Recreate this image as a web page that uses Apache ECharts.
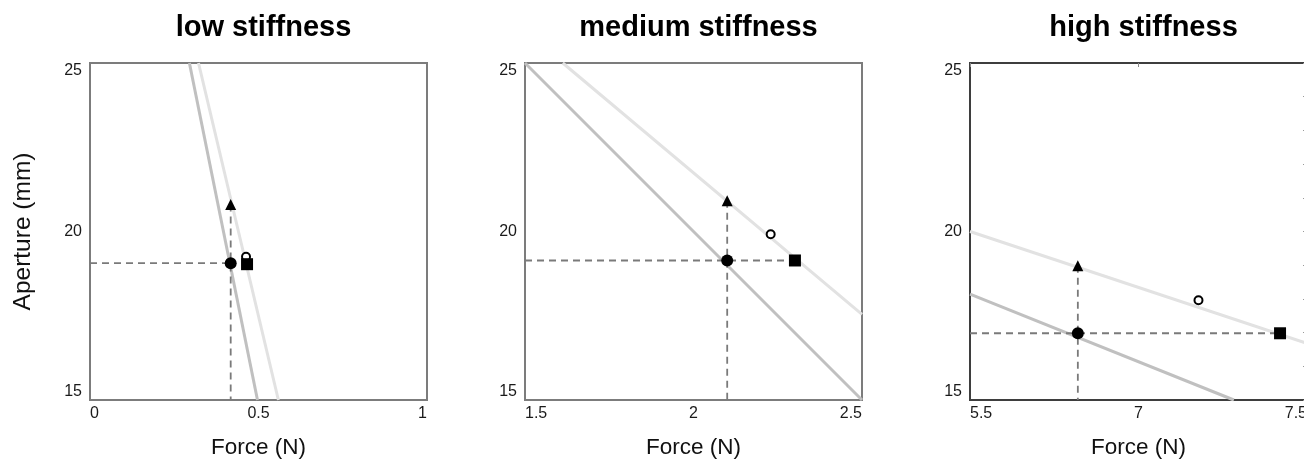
<!DOCTYPE html>
<html>
<head>
<meta charset="utf-8">
<script src="https://cdn.jsdelivr.net/npm/echarts@6/dist/echarts.min.js"></script>
<style>
html,body{margin:0;padding:0;background:#fff;}
#chart{width:1304px;height:459px;}
</style>
</head>
<body>
<div id="chart"></div>
<script>
// ---- data ----
const titles = ['low stiffness', 'medium stiffness', 'high stiffness'];
const xMin = [0, 1.5, 6.5];
const xMax = [1, 2.5, 7.5];
const xTickLabels = [['0', '0.5', '1'], ['1.5', '2', '2.5'], ['5.5', '7', '7.5']];
const yMin = 15, yMax = 25;
const yTickLabels = ['15', '20', '25'];
// grey model lines (two end points each)
const darkLine = [[[0.295, 25], [0.497, 15]], [[1.5, 25], [2.5, 15]], [[6.5, 18.14], [7.283, 15]]];
const lightLine = [[[0.322, 25], [0.559, 15]], [[1.612, 25], [2.5, 17.54]], [[6.5, 20.0], [7.5, 16.68]]];
// markers
const filledCircle = [[0.4175, 19.06], [2.1, 19.14], [6.82, 16.98]];
const triangle = [[0.4175, 20.8], [2.1, 20.91], [6.82, 18.98]];
const openCircle = [[0.463, 19.25], [2.229, 19.92], [7.178, 17.96]];
const square = [[0.466, 19.03], [2.301, 19.14], [7.42, 16.98]];
// horizontal dashed line ends at this x
const hDashEnd = [0.4175, 2.301, 7.42];

// ---- layout ----
const gridLeft = [90, 525, 970];
const gridTop = 63, gridSize = 337;
const FONT = "'Liberation Sans', Arial, sans-serif";

const grids = [], xAxes = [], yAxes = [], series = [], titleArr = [];
for (let p = 0; p < 3; p++) {
  grids.push({
    left: gridLeft[p], top: gridTop, width: gridSize, height: gridSize,
    outerBoundsMode: 'none', containLabel: false,
    show: true, borderColor: p === 2 ? '#3e3e3e' : '#7c7c7c', borderWidth: 2,
    backgroundColor: 'transparent'
  });
  titleArr.push({
    text: titles[p], left: gridLeft[p] + gridSize / 2, top: 8, textAlign: 'center',
    textStyle: { fontFamily: FONT, fontSize: 29, fontWeight: 'bold', color: '#000' }
  });
  xAxes.push({
    type: 'value', gridIndex: p, min: xMin[p], max: xMax[p], interval: 0.5,
    name: 'Force (N)', nameLocation: 'middle', nameGap: 36,
    nameTextStyle: { fontFamily: FONT, fontSize: 22.5, color: '#111' },
    axisLine: { show: false }, axisTick: { show: false }, splitLine: { show: false },
    axisLabel: {
      fontFamily: FONT, fontSize: 16, color: '#1a1a1a', margin: 6,
      alignMinLabel: 'left', alignMaxLabel: 'right',
      formatter: (v, i) => xTickLabels[p][Math.round((v - xMin[p]) / 0.5)]
    }
  });
  yAxes.push({
    type: 'value', gridIndex: p, min: yMin, max: yMax, interval: 5,
    name: p === 0 ? 'Aperture (mm)' : '', nameLocation: 'middle', nameGap: 54,
    nameTextStyle: { fontFamily: FONT, fontSize: 24.5, color: '#111' },
    axisLine: { show: false }, axisTick: { show: false }, splitLine: { show: false },
    axisLabel: {
      fontFamily: FONT, fontSize: 16, color: '#1a1a1a', margin: 8,
      verticalAlignMinLabel: 'bottom', verticalAlignMaxLabel: 'top',
      formatter: (v) => yTickLabels[Math.round((v - yMin) / 5)]
    }
  });
}
// extra inward ticks on the third panel (right & top)
yAxes.push({
  type: 'value', gridIndex: 2, position: 'right', min: yMin, max: yMax, interval: 1,
  axisLine: { show: false }, splitLine: { show: false }, axisLabel: { show: false },
  axisTick: { show: true, inside: true, length: 4, lineStyle: { color: '#999', width: 1 } }
});
xAxes.push({
  type: 'value', gridIndex: 2, position: 'top', min: xMin[2], max: xMax[2], interval: 0.5,
  axisLine: { show: false }, splitLine: { show: false }, axisLabel: { show: false },
  axisTick: { show: true, inside: true, length: 4, lineStyle: { color: '#888', width: 1 } }
});

for (let p = 0; p < 3; p++) {
  const ax = { xAxisIndex: p, yAxisIndex: p };
  series.push(Object.assign({
    type: 'line', data: darkLine[p], symbol: 'none', silent: true, z: 2,
    lineStyle: { color: '#c0c0c0', width: 3 }
  }, ax));
  series.push(Object.assign({
    type: 'line', data: lightLine[p], symbol: 'none', silent: true, z: 2,
    lineStyle: { color: '#e2e2e2', width: 3 }
  }, ax));
  series.push(Object.assign({
    type: 'line', symbol: 'none', silent: true, z: 3,
    data: [[xMin[p], filledCircle[p][1]], [hDashEnd[p], filledCircle[p][1]]],
    lineStyle: { color: '#7a7a7a', width: 1.8, type: [7, 5] }
  }, ax));
  series.push(Object.assign({
    type: 'line', symbol: 'none', silent: true, z: 3,
    data: [[filledCircle[p][0], triangle[p][1]], [filledCircle[p][0], yMin]],
    lineStyle: { color: '#7a7a7a', width: 1.8, type: [7, 5] }
  }, ax));
  series.push(Object.assign({
    type: 'scatter', data: [filledCircle[p]], symbol: 'circle', symbolSize: 12, z: 5,
    itemStyle: { color: '#000', opacity: 1 }
  }, ax));
  series.push(Object.assign({
    type: 'scatter', data: [triangle[p]], symbol: 'triangle', symbolSize: 11, z: 5,
    itemStyle: { color: '#000', opacity: 1 }
  }, ax));
  series.push(Object.assign({
    type: 'scatter', data: [openCircle[p]], symbol: 'circle', symbolSize: 8, z: 5,
    itemStyle: { color: '#fff', borderColor: '#000', borderWidth: 2, opacity: 1 }
  }, ax));
  series.push(Object.assign({
    type: 'scatter', data: [square[p]], symbol: 'rect', symbolSize: 12, z: 5,
    itemStyle: { color: '#000', opacity: 1 }
  }, ax));
}

const chart = echarts.init(document.getElementById('chart'), null, { renderer: 'canvas' });
chart.setOption({
  animation: false,
  backgroundColor: '#fff',
  title: titleArr,
  grid: grids,
  xAxis: xAxes,
  yAxis: yAxes,
  series: series
});
</script>
</body>
</html>
